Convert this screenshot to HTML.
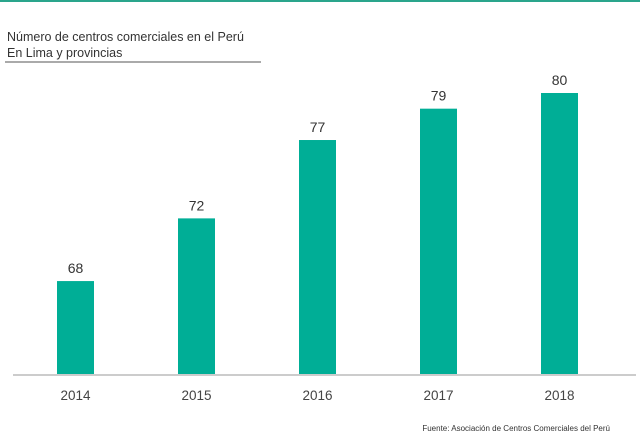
<!DOCTYPE html>
<html><head><meta charset="utf-8"><style>
body{margin:0;background:#fff;font-family:"Liberation Sans",sans-serif}
svg{display:block}
</style></head><body>
<svg width="640" height="442">
<rect x="0" y="0" width="640" height="2" fill="#2aa58c"/>
<text x="7" y="41" font-size="12.5" fill="#333">Número de centros comerciales en el Perú</text>
<text x="7" y="57" font-size="12.5" fill="#333">En Lima y provincias</text>
<line x1="5" y1="62" x2="261" y2="62" stroke="#555" stroke-width="1"/>
<g id="bars"></g>
<line x1="13" y1="375" x2="636" y2="375" stroke="#ccc" stroke-width="2"/>
<text x="610" y="431" font-size="8" fill="#333" text-anchor="end">Fuente: Asociación de Centros Comerciales del Perú</text>
</svg>
<script>
const categories=["2014","2015","2016","2017","2018"];
const values=[68,72,77,79,80];
const yMin=62.07,yMax=80;
const y0=374,y1=93;
function y(v){return y0-(v-yMin)/(yMax-yMin)*(y0-y1);}
function xc(i){return 75.5+i*121;}
const g=document.getElementById('bars');
const ns="http://www.w3.org/2000/svg";
values.forEach((v,i)=>{
 const r=document.createElementNS(ns,'rect');
 r.setAttribute('x',xc(i)-18.5);r.setAttribute('width',37);
 r.setAttribute('y',y(v));r.setAttribute('height',y0-y(v));
 r.setAttribute('fill','#00ae96');
 
 
 g.appendChild(r);
 const t=document.createElementNS(ns,'text');
 t.setAttribute('x',xc(i));t.setAttribute('y',y(v)-8);
 t.setAttribute('text-anchor','middle');t.setAttribute('font-size','14');t.setAttribute('fill','#333');
 t.textContent=v;
 
 
 g.appendChild(t);
 const c=document.createElementNS(ns,'text');
 c.setAttribute('x',xc(i));c.setAttribute('y',400);
 c.setAttribute('text-anchor','middle');c.setAttribute('font-size','13.5');c.setAttribute('fill','#444');
 c.textContent=categories[i];
 
 
 g.appendChild(c);
});
</script>
</body></html>
